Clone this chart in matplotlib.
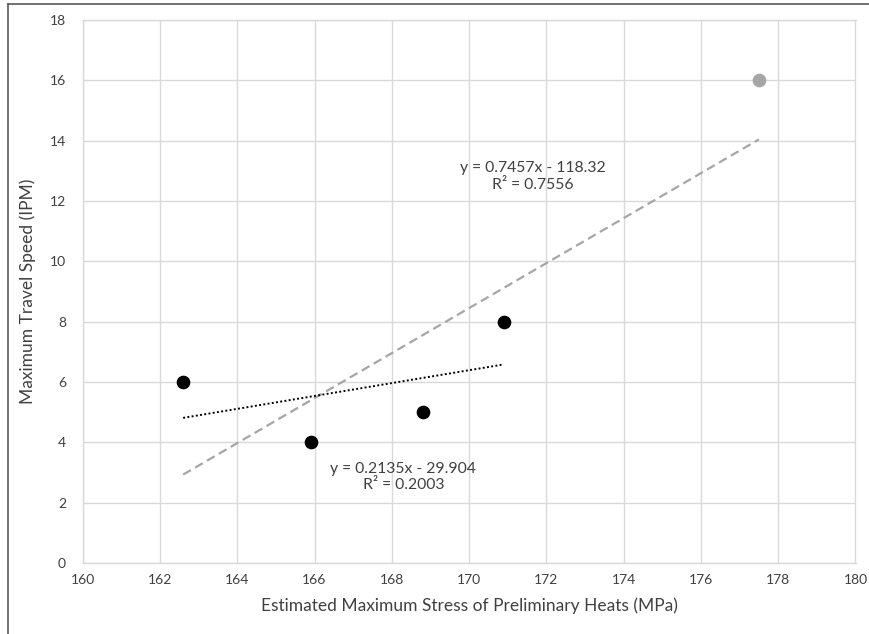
import numpy as np
import matplotlib.pyplot as plt
from matplotlib.lines import Line2D

plt.rcParams['font.family'] = ['Lato', 'DejaVu Sans']

# preliminary heats (black) and the extra heat (grey)
stress = [162.6, 165.9, 168.8, 170.9]
speed = [6, 4, 5, 8]
stress_extra = [177.5]
speed_extra = [16]

# Excel trendline coefficients
fit4 = (0.2135, -29.904, 0.2003)
fit5 = (0.7457, -118.32, 0.7556)

fig = plt.figure(figsize=(8.7, 6.34), dpi=100)
ax = fig.add_axes([82.7 / 870, 1 - 563 / 634, (855.5 - 82.7) / 870, (563 - 20) / 634])

grid_c = '#d9d9d9'
ax.set_xlim(160, 180)
ax.set_ylim(0, 18)
ax.set_xticks(np.arange(160, 181, 2))
ax.set_yticks(np.arange(0, 19, 2))
ax.grid(True, color=grid_c, linewidth=1.0)
ax.set_axisbelow(True)
for s in ax.spines.values():
    s.set_color(grid_c)
    s.set_linewidth(1.0)
ax.tick_params(length=0, labelsize=10, colors='#404040', pad=8)
ax.tick_params(axis='y', pad=12)

all_x = stress + stress_extra
xs4 = np.array([min(stress), max(stress)])
xs5 = np.array([min(all_x), max(all_x)])
ax.plot(xs5, fit5[0] * xs5 + fit5[1], color='#a6a6a6', linestyle=(0, (4, 2.2)), linewidth=1.6, zorder=2)
ax.plot(xs4, fit4[0] * xs4 + fit4[1], color='black', linestyle=(0, (1, 1.2)), linewidth=1.4, zorder=2)

ax.scatter(stress, speed, s=78, color='black', zorder=3)
ax.scatter(stress_extra, speed_extra, s=78, color='#a6a6a6', zorder=3)

ax.text(171.65, 12.8, 'y = %.4fx - %.2f\nR² = %.4f' % (fit5[0], -fit5[1], fit5[2]),
        ha='center', va='center', fontsize=11.3, color='#404040', linespacing=1.25)
ax.text(168.3, 2.85, 'y = %.4fx - %.3f\nR² = %.4f' % (fit4[0], -fit4[1], fit4[2]),
        ha='center', va='center', fontsize=11.3, color='#404040', linespacing=1.25)

ax.set_xlabel('Estimated Maximum Stress of Preliminary Heats (MPa)', fontsize=12.5, color='#404040', labelpad=8)
ax.set_ylabel('Maximum Travel Speed (IPM)', fontsize=12.5, color='#404040', labelpad=10)

# chart frame (top and left edges)
fig.add_artist(Line2D([8 / 870, 8 / 870], [0, 1 - 4 / 634], color='#595959', linewidth=1.2))
fig.add_artist(Line2D([8 / 870, 1], [1 - 4 / 634, 1 - 4 / 634], color='#595959', linewidth=1.2))

fig.savefig('out.png', dpi=100)
